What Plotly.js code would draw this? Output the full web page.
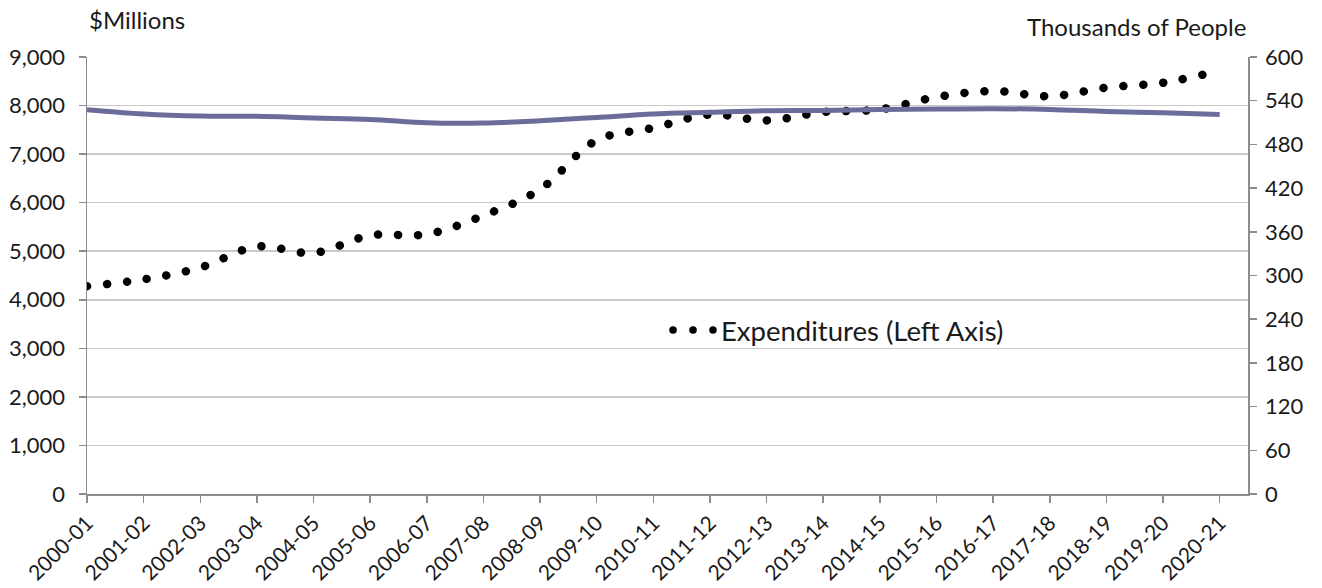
<!DOCTYPE html>
<html>
<head>
<meta charset="utf-8">
<script src="https://cdn.plot.ly/plotly-3.0.1.min.js"></script>
<style>
  html, body { margin: 0; padding: 0; background: #fff; }
  #chart { width: 1322px; height: 588px; }
</style>
</head>
<body>
<div id="chart"></div>
<script>
const categories = ['2000-01','2001-02','2002-03','2003-04','2004-05','2005-06','2006-07',
  '2007-08','2008-09','2009-10','2010-11','2011-12','2012-13','2013-14','2014-15',
  '2015-16','2016-17','2017-18','2018-19','2019-20','2020-21'];
// $Millions (left axis)
const expenditures = [4280, 4420, 4663, 5095, 4965, 5325, 5350, 5735, 6274, 7285, 7540,
  7815, 7694, 7865, 7920, 8175, 8299, 8192, 8370, 8470, 8720];
// Thousands of people (right axis)
const population = [527.6, 521.7, 518.9, 518.5, 516.2, 514.3, 509.7, 509.3, 512.5, 517.0,
  521.7, 524.0, 526.2, 526.7, 528.0, 528.5, 529.0, 528.0, 525.3, 523.5, 521.2];

const leftTicks = [0,1000,2000,3000,4000,5000,6000,7000,8000,9000];
const rightTicks = [0,60,120,180,240,300,360,420,480,540,600];

const FONT = 'Lato, "Open Sans", sans-serif';
const TXT = '#1a1a1a';

const traces = [
  {
    x: categories, y: expenditures, name: 'Expenditures (Left Axis)',
    type: 'scatter', mode: 'lines', yaxis: 'y',
    line: {color: '#000000', width: 8.5, shape: 'spline', smoothing: 1, dash: '0.1px,19.9px'},
    hoverinfo: 'x+y'
  },
  {
    x: categories, y: population, name: 'Population (Right Axis)',
    type: 'scatter', mode: 'lines', yaxis: 'y2', showlegend: false,
    line: {color: '#6c6c9c', width: 5, shape: 'spline', smoothing: 1},
    hoverinfo: 'x+y'
  }
];

const layout = {
  width: 1322, height: 588,
  margin: {l: 87, r: 74, t: 57, b: 94},
  paper_bgcolor: '#ffffff', plot_bgcolor: '#ffffff',
  font: {family: FONT, size: 22, color: TXT},
  showlegend: true,
  legend: {
    x: 0.5116, y: 0.375, xanchor: 'left', yanchor: 'middle',
    bgcolor: 'rgba(0,0,0,0)', borderwidth: 0,
    font: {family: FONT, size: 27.5, color: TXT}
  },
  xaxis: {
    type: 'category', range: [0, 20.5],
    showgrid: false, zeroline: false,
    showline: true, linecolor: '#8c8c8c', linewidth: 1.5,
    ticks: 'outside', ticklen: 7, tickcolor: '#8c8c8c', tickwidth: 1.5,
    tickangle: -45, tickfont: {family: FONT, size: 21, color: TXT}
  },
  yaxis: {
    range: [0, 9000], tickvals: leftTicks, tickformat: ',d',
    showgrid: true, gridcolor: '#c9c9c9', gridwidth: 1.5,
    zeroline: false, showline: true, linecolor: '#8c8c8c', linewidth: 1.5,
    ticks: 'outside', ticklen: 7, tickcolor: '#8c8c8c', tickwidth: 1.5,
    ticklabelstandoff: 9,
    tickfont: {family: FONT, size: 22, color: TXT}
  },
  yaxis2: {
    range: [0, 600], tickvals: rightTicks, overlaying: 'y', side: 'right',
    showgrid: false, zeroline: false, showline: true, linecolor: '#8c8c8c', linewidth: 1.5,
    ticks: 'outside', ticklen: 7, tickcolor: '#8c8c8c', tickwidth: 1.5,
    ticklabelstandoff: 4,
    tickfont: {family: FONT, size: 22, color: TXT}
  },
  annotations: [
    {text: '$Millions', xref: 'paper', yref: 'paper', x: 0.0, y: 1.085,
     xanchor: 'left', yanchor: 'middle', showarrow: false,
     font: {family: FONT, size: 24, color: TXT}},
    {text: 'Thousands of People', xref: 'paper', yref: 'paper', x: 1.0, y: 1.069,
     xanchor: 'right', yanchor: 'middle', showarrow: false,
     font: {family: FONT, size: 24, color: TXT}}
  ]
};

function styleDots() {
  const gd = document.getElementById('chart');
  const tr = gd.querySelectorAll('.scatterlayer .trace');
  if (tr.length) {
    tr[0].querySelectorAll('path.js-line').forEach(p => {
      p.style.strokeLinecap = 'round';
    });
  }
  gd.querySelectorAll('.legend [clip-path]').forEach(e => e.removeAttribute('clip-path'));
  gd.querySelectorAll('.legend .legendlines path').forEach(p => {
    p.setAttribute('d', 'M-8,0h40');
    p.style.strokeLinecap = 'round';
    p.style.strokeWidth = '7.5px';
  });
}

Plotly.newPlot('chart', traces, layout, {displayModeBar: false, staticPlot: true}).then(gd => {
  styleDots();
  gd.on('plotly_afterplot', styleDots);
});
</script>
</body>
</html>
